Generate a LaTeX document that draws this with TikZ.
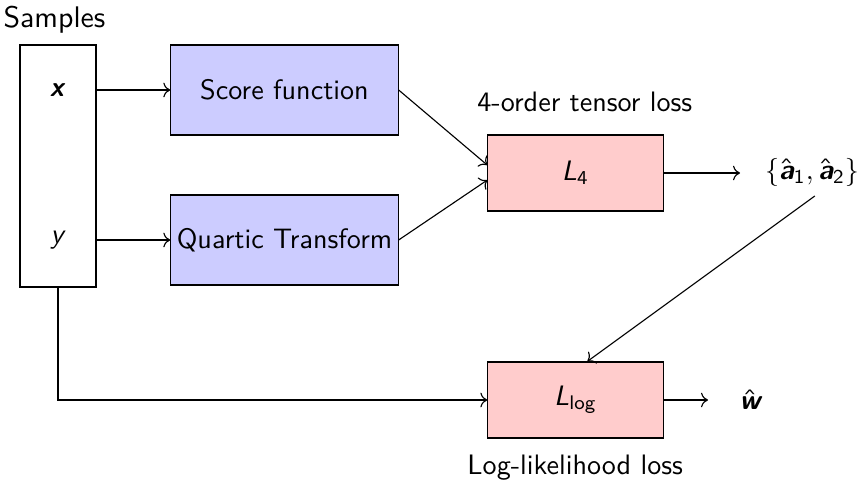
\documentclass[tikz,border=0pt]{standalone}
\usepackage{amsmath, amssymb}
\usepackage{tikz}
\usetikzlibrary{arrows.meta}
\renewcommand{\familydefault}{\sfdefault}
\SetSymbolFont{operators}{normal}{OT1}{cmss}{m}{n}
\newcommand{\sfit}[1]{\text{\itshape #1}}
\newcommand{\sfbit}[1]{\text{\bfseries\itshape #1}}

\begin{document}
\begin{tikzpicture}[font=\sffamily,
  inbox/.style={draw, minimum width=0.95cm, minimum height=3.025cm},
  blk/.style={draw, fill=blue!20, minimum width=2.84cm, minimum height=1.125cm, inner sep=0pt},
  loss/.style={draw, fill=red!20, minimum width=2.19cm, minimum height=0.95cm}]
\useasboundingbox (0,0) rectangle (10.8,-6.1);
% input samples
\node[inbox] (samples) at (0.725,-2.075) {};
\node (samplestxt) at (0.68,-0.25) {\fontsize{10.6}{12}\selectfont Samples};
\node (xin) at (0.7125,-1.125) {$\sfbit{x}$};
\node (yin) at (0.7125,-3.0) {$\sfit{y}$};
% feature blocks
\node[blk] (score) at (3.556,-1.125) {Score function};
\node[blk] (quartic) at (3.556,-3.0) {Quartic Transform};
\draw[->] (xin -| samples.east) -- (xin -| score.west);
\draw[->] (yin -| samples.east) -- (yin -| quartic.west);
% tensor loss
\node[loss] (lfour) at (7.194,-2.1625) {$\sfit{L}_4$};
\node (tensortxt) at (7.31,-1.275) {4-order tensor loss};
\draw[->] (score.east) -- ([yshift=2.8pt]lfour.west);
\draw[->] (quartic.east) -- ([yshift=-2.5pt]lfour.west);
\node (ahat) at (10.15,-2.15) {$\{\hat{\sfbit{a}}_1,\hat{\sfbit{a}}_2\}$};
\coordinate (aend) at (9.25,-2.1625);
\draw[->] (lfour.east) -- (aend);
% log-likelihood loss
\node[loss] (llog) at (7.194,-5.0) {$\sfit{L}_{\log}$};
\node (logtxt) at (7.19,-5.85) {Log-likelihood loss};
\draw[->] ([xshift=1pt]ahat.south) -- ([xshift=4.2pt]llog.north);
\draw[->] (samples.south) |- (llog.west);
\node (what) at (9.375,-5.0) {$\hat{\sfbit{w}}$};
\coordinate (wend) at (8.85,-5.0);
\draw[->] (llog.east) -- (wend);
\end{tikzpicture}
\end{document}
